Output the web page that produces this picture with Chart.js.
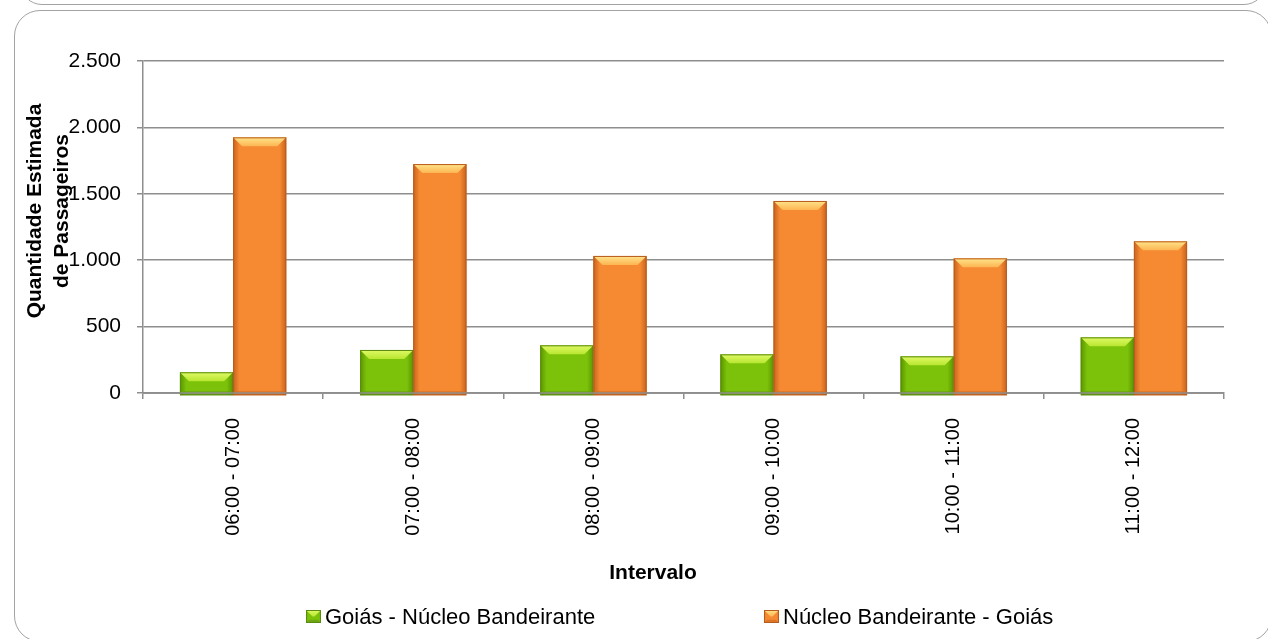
<!DOCTYPE html>
<html>
<head>
<meta charset="utf-8">
<script src="https://cdn.jsdelivr.net/npm/chart.js@4.4.0/dist/chart.umd.min.js"></script>
<style>
  html, body { margin: 0; padding: 0; background: #fff; }
  #wrap { position: relative; width: 1268px; height: 639px; overflow: hidden; }
  .box { position: absolute; border: 1.5px solid #a3a3a3; background: #fff; }
  #topBox { left: 20px; top: -60px; width: 1244px; height: 63px; border-radius: 22px; }
  #mainBox { left: 14px; top: 10px; width: 1256px; height: 630px; border-radius: 26px; }
  #chartHolder { position: absolute; left: 0; top: 0; width: 1268px; height: 639px; }
</style>
</head>
<body>
<div id="wrap">
  <div class="box" id="topBox"></div>
  <div class="box" id="mainBox"></div>
  <div id="chartHolder"><canvas id="passChart"></canvas></div>
</div>
<script>
const categories = ['06:00 - 07:00', '07:00 - 08:00', '08:00 - 09:00', '09:00 - 10:00', '10:00 - 11:00', '11:00 - 12:00'];
const seriesNames = ['Goiás - Núcleo Bandeirante', 'Núcleo Bandeirante - Goiás'];
const goiasNucleo = [156, 324, 359, 291, 276, 419];
const nucleoGoias = [1925, 1724, 1032, 1446, 1014, 1142];
const yTicks = [0, 500, 1000, 1500, 2000, 2500];
const yTitle = ['Quantidade Estimada', 'de Passageiros'];
const xTitle = 'Intervalo';

const FONT = '"Liberation Sans", Arial, sans-serif';
const GRID = '#8e8e8e';

// colour sets for the bevelled bars
const shades = [
    { body: '#7cc20a', edge: '#5a9400', hi: '#e0fa66', hi2: '#b8e630', low: '#5f8a1c', line: '#5b8a12' },
    { body: '#f58a32', edge: '#c8621e', hi: '#ffe48a', hi2: '#fdb552', low: '#c06020', line: '#b85c1e' }
];

function fmt(v) {
    return String(v).replace(/\B(?=(\d{3})+(?!\d))/g, '.');
}

function fillBevel(ctx, l, t, w, h, c) {
    const r = l + w, b = t + h;
    const g = ctx.createLinearGradient(l, 0, r, 0);
    g.addColorStop(0, c.edge);
    g.addColorStop(0.12, c.body);
    g.addColorStop(0.88, c.body);
    g.addColorStop(1, c.edge);
    ctx.fillStyle = g;
    ctx.fillRect(l, t, w, h);
    const bh = Math.min(9, h / 2);
    ctx.beginPath();
    ctx.moveTo(l, t); ctx.lineTo(r, t); ctx.lineTo(r - bh, t + bh); ctx.lineTo(l + bh, t + bh);
    ctx.closePath();
    const tg = ctx.createLinearGradient(0, t, 0, t + bh);
    tg.addColorStop(0, c.hi);
    tg.addColorStop(1, c.hi2);
    ctx.fillStyle = tg;
    ctx.fill();
    const lb = Math.min(4, h / 4);
    ctx.beginPath();
    ctx.moveTo(l, b); ctx.lineTo(r, b); ctx.lineTo(r - lb, b - lb); ctx.lineTo(l + lb, b - lb);
    ctx.closePath();
    ctx.fillStyle = c.low;
    ctx.globalAlpha = 0.5;
    ctx.fill();
    ctx.globalAlpha = 1;
    ctx.strokeStyle = c.line;
    ctx.lineWidth = 1;
    ctx.strokeRect(l + 0.5, t + 0.5, w - 1, h - 1);
}

const bevelBars = {
    id: 'bevelBars',
    afterDatasetsDraw(chart) {
        const ctx = chart.ctx;
        chart.data.datasets.forEach((ds, i) => {
            chart.getDatasetMeta(i).data.forEach(bar => {
                const l = bar.x - bar.width / 2;
                fillBevel(ctx, l, bar.y, bar.width, bar.base - bar.y + 3, shades[i]);
            });
        });
        // x axis line on top of the bars
        const a = chart.chartArea;
        ctx.save();
        ctx.strokeStyle = GRID;
        ctx.lineWidth = 1.5;
        ctx.beginPath();
        ctx.moveTo(a.left, a.bottom);
        ctx.lineTo(a.right, a.bottom);
        ctx.stroke();
        ctx.restore();
    }
};

const textsPlugin = {
    id: 'texts',
    afterDraw(chart) {
        const ctx = chart.ctx;
        ctx.save();
        ctx.fillStyle = '#000';
        ctx.textAlign = 'center';
        ctx.textBaseline = 'middle';
        ctx.font = 'bold 21px ' + FONT;
        // y axis title (two lines, rotated)
        ctx.save();
        ctx.translate(35, 211);
        ctx.rotate(-Math.PI / 2);
        ctx.fillText(yTitle[0], 0, 0);
        ctx.fillText(yTitle[1], 0, 27);
        ctx.restore();
        // x axis title
        ctx.fillText(xTitle, 653, 573);
        // legend
        ctx.font = '22px ' + FONT;
        ctx.textAlign = 'left';
        const legendX = [306, 764];
        seriesNames.forEach((name, i) => {
            fillBevel(ctx, legendX[i], 610, 15, 13, shades[i]);
            ctx.fillStyle = '#000';
            ctx.fillText(name, legendX[i] + 19, 618);
        });
        ctx.restore();
    }
};

const ctx = document.getElementById('passChart').getContext('2d');
const passChart = new Chart(ctx, {
    type: 'bar',
    data: {
        labels: categories,
        datasets: [{
            label: seriesNames[0],
            data: goiasNucleo,
            backgroundColor: shades[0].body,
            borderWidth: 0,
            barPercentage: 1.0,
            categoryPercentage: 0.59
        }, {
            label: seriesNames[1],
            data: nucleoGoias,
            backgroundColor: shades[1].body,
            borderWidth: 0,
            barPercentage: 1.0,
            categoryPercentage: 0.59
        }]
    },
    options: {
        responsive: true,
        maintainAspectRatio: false,
        animation: false,
        layout: { padding: { top: 61, right: 44, left: 0, bottom: 0 } },
        plugins: {
            legend: { display: false },
            tooltip: { enabled: false }
        },
        scales: {
            x: {
                grid: { drawOnChartArea: false, drawTicks: true, tickLength: 6, color: GRID, lineWidth: 1.5 },
                border: { color: GRID, width: 1.5 },
                ticks: { minRotation: 90, maxRotation: 90, padding: 19, color: '#000', font: { family: FONT, size: 20 } },
                afterFit: s => { s.height = 246; }
            },
            y: {
                min: yTicks[0],
                max: yTicks[yTicks.length - 1],
                grid: { color: GRID, lineWidth: 1.5, tickLength: 6 },
                border: { color: GRID, width: 1.5 },
                ticks: {
                    stepSize: yTicks[1] - yTicks[0],
                    padding: 16,
                    color: '#000',
                    font: { family: FONT, size: 21 },
                    callback: v => fmt(v)
                },
                afterFit: s => { s.width = 143; }
            }
        }
    },
    plugins: [bevelBars, textsPlugin]
});
</script>
</body>
</html>
